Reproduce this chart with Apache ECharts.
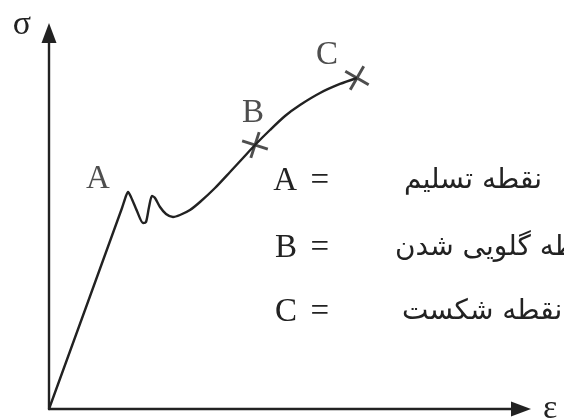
<!DOCTYPE html>
<html>
<head>
<meta charset="utf-8">
<script src="https://cdn.jsdelivr.net/npm/echarts@6/dist/echarts.min.js"></script>
<style>
html,body{margin:0;padding:0;background:#fff;}
#main{width:564px;height:420px;}
</style>
</head>
<body>
<div id="main"></div>
<script>
// strain (x) / stress (y) curve, axes 0-100
var strain = [0, 15.47, 16.31, 16.74, 17.37, 18.64, 19.92, 20.55, 21.19, 21.82, 22.46, 23.52, 24.79, 26.27, 27.75, 29.87, 31.99, 35.17, 38.35, 41.10, 43.64, 46.82, 50.00, 53.18, 57.42, 61.65, 65.25];
var stress = [0, 53.46, 56.65, 57.71, 56.38, 52.66, 49.47, 49.73, 53.72, 56.65, 56.12, 53.72, 51.86, 51.06, 51.60, 52.93, 55.05, 58.78, 63.03, 66.76, 70.21, 74.20, 77.93, 80.85, 84.04, 86.44, 88.03];

// marked points
var pointNames = ['A', 'B', 'C'];
var pointX = [16.74, 43.64, 65.25];
var pointY = [57.71, 70.21, 88.03];

// key on the right
var keyLetters = ['A', 'B', 'C'];
var keyTexts = ['نقطه تسلیم', 'نقطه گلویی شدن', 'نقطه شکست'];

var ink = '#222';
var serif = '"Liberation Serif", "DejaVu Serif", serif';

var curve = [];
for (var i = 0; i < strain.length; i++) {
  curve.push([strain[i], stress[i]]);
}

// cross marker made of two thin bars
var cross = 'path://M-1.4,-13L1.4,-13L1.4,13L-1.4,13Z M-13,-1.4L13,-1.4L13,1.4L-13,1.4Z';
var labelOffset = [[-30, -13], [-2, -32], [-30, -23]];
var crossRotate = [0, -18, -30];

var marks = pointNames.map(function (n, i) {
  return {
    name: n,
    value: [pointX[i], pointY[i]],
    symbolSize: i == 0 ? 0 : 27,
    symbolRotate: crossRotate[i],
    label: { offset: labelOffset[i] }
  };
});

var keyRowsY = [181, 248, 312];
var keyTextX = [404, 395, 402];
var graphics = [];
keyLetters.forEach(function (t, i) {
  graphics.push({
    type: 'text', x: 297, y: keyRowsY[i],
    style: { text: t, fontFamily: serif, fontSize: 33, fill: ink, align: 'right', verticalAlign: 'middle' }
  });
  graphics.push({
    type: 'text', x: 329, y: keyRowsY[i],
    style: { text: '=', fontFamily: serif, fontSize: 33, fill: ink, align: 'right', verticalAlign: 'middle' }
  });
  graphics.push({
    type: 'text', x: keyTextX[i], y: keyRowsY[i],
    style: { text: keyTexts[i], fontFamily: '"DejaVu Sans", sans-serif', fontSize: 28, fill: ink, align: 'left', verticalAlign: 'middle' }
  });
});

var chart = echarts.init(document.getElementById('main'));
var option = {
  backgroundColor: '#fff',
  animation: false,
  grid: { left: 49, right: 43, top: 33, bottom: 11, outerBoundsMode: 'none', containLabel: false },
  xAxis: {
    type: 'value', min: 0, max: 100,
    name: 'ε', nameLocation: 'end', nameGap: 22,
    nameTextStyle: { fontFamily: serif, fontSize: 34, color: ink, verticalAlign: 'middle' },
    axisLine: { symbol: ['none', 'triangle'], symbolSize: [15, 20], lineStyle: { color: ink, width: 2.4 } },
    axisTick: { show: false }, axisLabel: { show: false }, splitLine: { show: false }
  },
  yAxis: {
    type: 'value', min: 0, max: 100,
    name: 'σ', nameLocation: 'end', nameGap: 8,
    nameTextStyle: { fontFamily: serif, fontSize: 34, color: ink, align: 'right', verticalAlign: 'middle', padding: [0, 18, 0, 0] },
    axisLine: { symbol: ['none', 'triangle'], symbolSize: [15, 20], lineStyle: { color: ink, width: 2.4 } },
    axisTick: { show: false }, axisLabel: { show: false }, splitLine: { show: false }
  },
  series: [
    {
      type: 'line',
      data: curve,
      smooth: 0.25,
      showSymbol: false,
      lineStyle: { color: ink, width: 2.4 }
    },
    {
      type: 'scatter',
      data: marks,
      symbol: cross,
      itemStyle: { color: ink },
      label: {
        show: true, position: 'inside', formatter: '{b}',
        fontFamily: serif, fontSize: 33, color: ink
      }
    }
  ],
  graphic: graphics
};
chart.setOption(option);
</script>
</body>
</html>
